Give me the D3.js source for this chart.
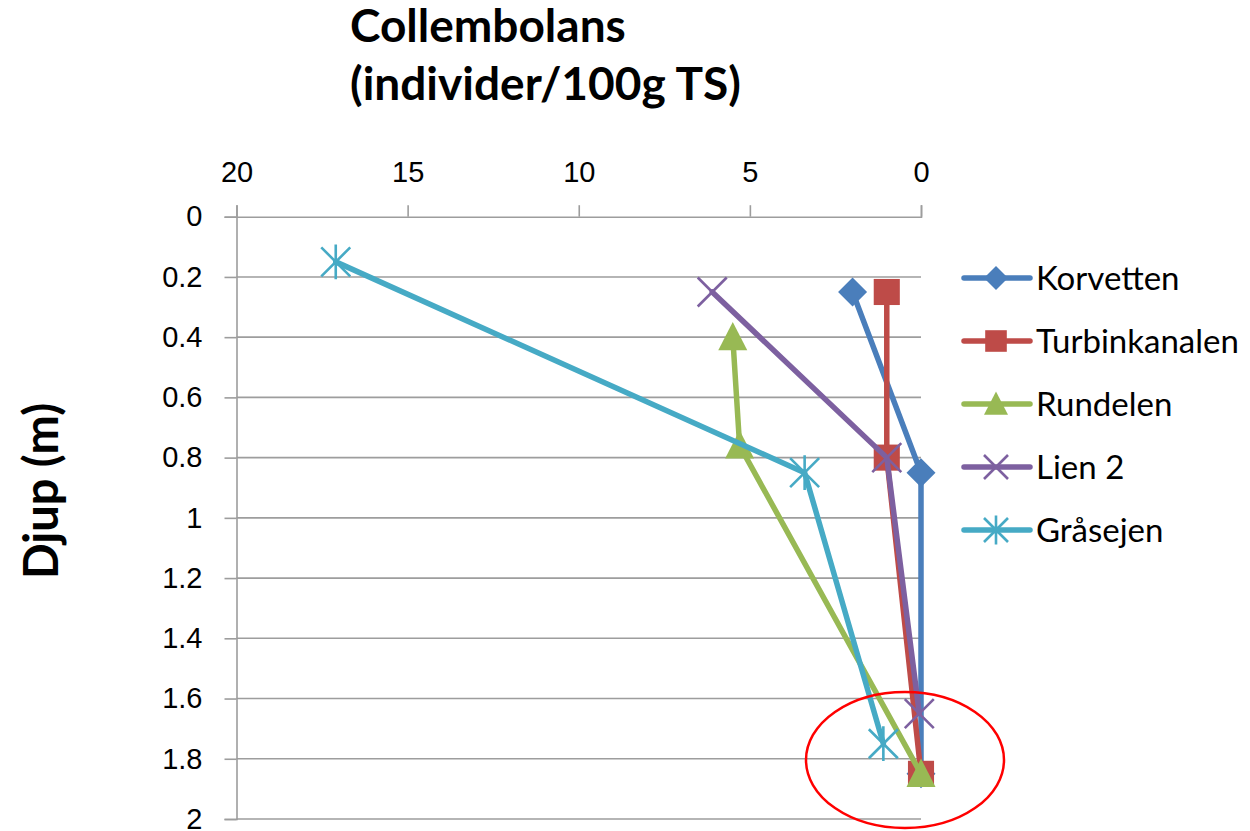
<!DOCTYPE html>
<html>
<head>
<meta charset="utf-8">
<script src="https://cdn.jsdelivr.net/npm/d3@7"></script>
<style>
  html, body { margin: 0; padding: 0; background: #fff; }
  svg { display: block; font-family: Lato, "Open Sans", sans-serif; }
</style>
</head>
<body>
<svg id="chart" width="1250" height="831"></svg>
<script>
// Collembolans per 100 g dry soil at different depths, five sites
const xTicks = [20, 15, 10, 5, 0];
const yTicks = [0, 0.2, 0.4, 0.6, 0.8, 1, 1.2, 1.4, 1.6, 1.8, 2];

const korvettenDepth = [0.25, 0.85, 1.85];
const korvettenCount = [2, 0, 0];
const turbinDepth = [0.25, 0.8, 1.85];
const turbinCount = [1, 1, 0];
const rundelenDepth = [0.4, 0.76, 1.85];
const rundelenCount = [5.5, 5.3, 0];
const lienDepth = [0.25, 0.8, 1.65];
const lienCount = [6.1, 1, 0.05];
const grasejenDepth = [0.15, 0.85, 1.75];
const grasejenCount = [17.1, 3.4, 1.1];

const seriesNames = ["Korvetten", "Turbinkanalen", "Rundelen", "Lien 2", "Gråsejen"];
const seriesColors = ["#4a7ebb", "#be4b48", "#98b954", "#7d60a0", "#46aac5"];
const seriesMarkers = ["diamond", "square", "triangle", "cross", "asterisk"];

const series = [
  [korvettenDepth, korvettenCount],
  [turbinDepth, turbinCount],
  [rundelenDepth, rundelenCount],
  [lienDepth, lienCount],
  [grasejenDepth, grasejenCount]
].map(([d, c], i) => ({
  name: seriesNames[i], color: seriesColors[i], marker: seriesMarkers[i],
  points: d.map((depth, j) => ({ depth, count: c[j] }))
}));

const svg = d3.select("#chart");
const plotLeft = 236.5, plotRight = 921, plotTop = 216.7, plotBottom = 819;

const x = d3.scaleLinear().domain([20, 0]).range([plotLeft, plotRight]);
const y = d3.scaleLinear().domain([0, 2]).range([plotTop, plotBottom]);

const gridColor = "#9d9d9d";

// horizontal gridlines
svg.append("g").selectAll("line").data(yTicks.slice(1)).join("line")
  .attr("x1", plotLeft).attr("x2", plotRight)
  .attr("y1", d => y(d)).attr("y2", d => y(d))
  .attr("stroke", gridColor).attr("stroke-width", 1.6);

// top value axis (reversed)
const xAxis = svg.append("g").attr("transform", `translate(0,${plotTop})`)
  .call(d3.axisTop(x).tickValues(xTicks).tickSize(11.5).tickPadding(23.5).tickFormat(d3.format("d")));
xAxis.select(".domain").attr("stroke", gridColor).attr("stroke-width", 1.6);
xAxis.selectAll(".tick line").attr("stroke", gridColor).attr("stroke-width", 1.6);
xAxis.selectAll("text").attr("font-size", 29).attr("fill", "#000");

// left depth axis
const yAxis = svg.append("g").attr("transform", `translate(${plotLeft},0)`)
  .call(d3.axisLeft(y).tickValues(yTicks).tickSize(12).tickPadding(22).tickFormat(d => String(d)));
yAxis.select(".domain").attr("stroke", gridColor).attr("stroke-width", 1.6);
yAxis.selectAll(".tick line").attr("stroke", gridColor).attr("stroke-width", 1.6);
yAxis.selectAll("text").attr("font-size", 29).attr("fill", "#000");

// titles
const title = svg.append("text").attr("font-size", 46)
  .attr("font-weight", "bold").attr("fill", "#000");
title.append("tspan").attr("x", 350).attr("y", 42).text("Collembolans");
title.append("tspan").attr("x", 350).attr("y", 100).text("(individer/100g TS)");

svg.append("text").attr("transform", "translate(58,491) rotate(-90)")
  .attr("text-anchor", "middle").attr("font-size", 47).attr("font-weight", "bold")
  .attr("fill", "#000").text("Djup (m)");

// marker shapes
function markerPath(type, s) {
  switch (type) {
    case "diamond": return `M0,${-s}L${s},0L0,${s}L${-s},0Z`;
    case "square": return `M${-s*0.9},${-s*0.9}H${s*0.9}V${s*0.9}H${-s*0.9}Z`;
    case "triangle": return `M0,${-s*1.05}L${s},${s*0.9}L${-s},${s*0.9}Z`;
    case "cross": return `M${-s},${-s}L${s},${s}M${-s},${s}L${s},${-s}`;
    case "asterisk": return `M${-s},${-s}L${s},${s}M${-s},${s}L${s},${-s}M0,${-s*1.2}V${s*1.2}`;
  }
}
function drawMarker(g, type, color, cx, cy, s) {
  const filled = type === "diamond" || type === "square" || type === "triangle";
  g.append("path").attr("d", markerPath(type, s))
    .attr("transform", `translate(${cx},${cy})`)
    .attr("fill", filled ? color : "none")
    .attr("stroke", color).attr("stroke-width", filled ? 0 : 2.6);
}

const line = d3.line().x(d => x(d.count)).y(d => y(d.depth));

series.forEach(s => {
  const g = svg.append("g");
  g.append("path").datum(s.points).attr("d", line)
    .attr("fill", "none").attr("stroke", s.color)
    .attr("stroke-width", 5.5).attr("stroke-linejoin", "round").attr("stroke-linecap", "round");
  s.points.forEach(p => drawMarker(g, s.marker, s.color, x(p.count), y(p.depth), 14.5));
});

// legend
const legend = svg.append("g");
series.forEach((s, i) => {
  const ly = 278 + i * 63;
  legend.append("line").attr("x1", 964).attr("x2", 1030).attr("y1", ly).attr("y2", ly)
    .attr("stroke", s.color).attr("stroke-width", 5.5).attr("stroke-linecap", "round");
  drawMarker(legend, s.marker, s.color, 996, ly, 12);
  legend.append("text").attr("x", 1036).attr("y", ly + 12)
    .attr("font-size", 33).attr("fill", "#000").text(s.name);
});

// highlight around the deepest samples
svg.append("ellipse").attr("cx", 905).attr("cy", 760).attr("rx", 99).attr("ry", 68)
  .attr("fill", "none").attr("stroke", "#ff0000").attr("stroke-width", 2.5);
</script>
</body>
</html>
